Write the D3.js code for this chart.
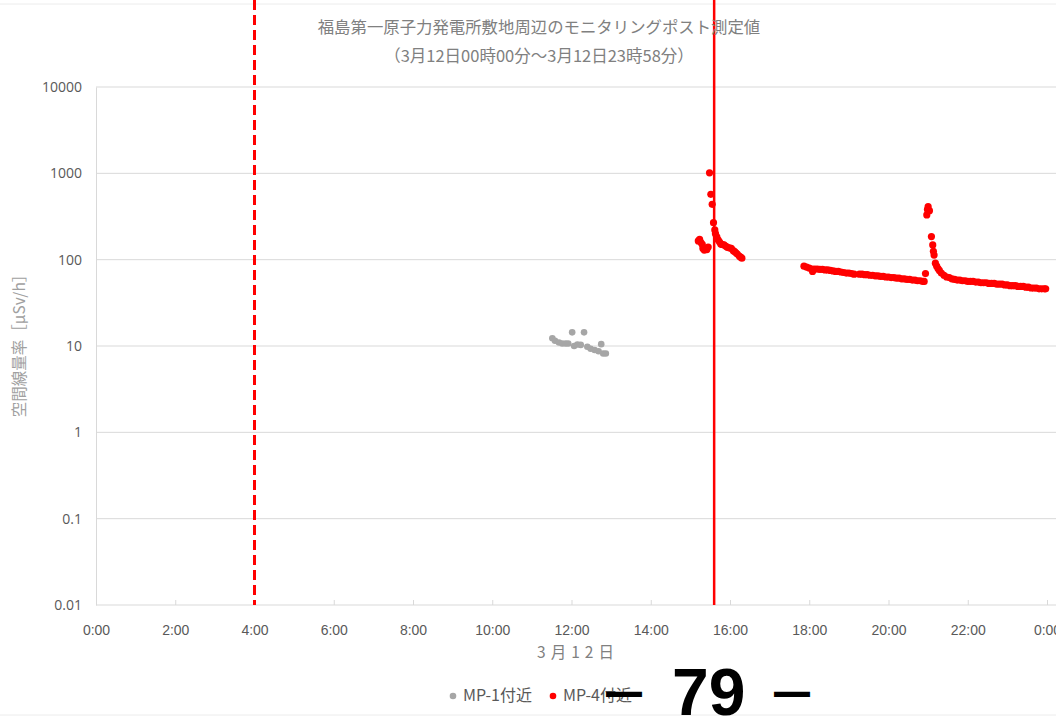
<!DOCTYPE html>
<html><head><meta charset="utf-8">
<script src="https://cdn.jsdelivr.net/npm/d3@7"></script>
<style>body{margin:0;background:#fff;}svg{display:block;}</style>
</head><body>
<svg id="c" width="1056" height="717"></svg>
<script>
const titleText = "福島第一原子力発電所敷地周辺のモニタリングポスト測定値";
const subtitleText = "（3月12日00時00分～3月12日23時58分）";
const yAxisTitle = "空間線量率［μSv/h］";
const xAxisTitle = "3月12日";
const seriesNames = ["MP-1付近", "MP-4付近"];
const seriesColors = ["#a6a6a6", "#ff0000"];
const xTickHours = [0,2,4,6,8,10,12,14,16,18,20,22,24];
const xTickLabels = ["0:00","2:00","4:00","6:00","8:00","10:00","12:00","14:00","16:00","18:00","20:00","22:00","0:00"];
const yTickValues = [0.01,0.1,1,10,100,1000,10000];
const yTickLabels = ["0.01","0.1","1","10","100","1000","10000"];
const eventTimes = ["04:00", "15:36"];
const eventStyles = ["dashed", "solid"];
const pageLabel = "79";

// MP-1 near
const mp1Times = ["11:31","11:35","11:41","11:46","11:51","11:55","12:01","12:04","12:09","12:14","12:19","12:24","12:29","12:35","12:41","12:45","12:48","12:52"];
const mp1Values = [12.3,11.5,11.0,10.7,10.7,10.7,14.4,10.0,10.4,10.3,14.4,9.8,9.3,9.0,8.7,10.5,8.2,8.2];

// MP-4 near
const mp4Times = [
 "15:12","15:14","15:16","15:18","15:19","15:21","15:23","15:25","15:27",
 "15:29","15:31","15:33","15:35","15:37","15:38","15:40","15:42","15:44","15:46","15:48","15:51","15:54","15:56","15:59","16:02","16:05","16:07","16:09","16:11","16:14","16:16","16:18",
 "17:52","17:56","18:00","18:04","18:05","18:08","18:12","18:16","18:20","18:24","18:28","18:32","18:36","18:40","18:44","18:48","18:52","18:56","19:00","19:04","19:08",
 "19:16","19:20","19:24","19:28","19:32","19:36","19:40","19:44","19:48","19:52","19:56","20:00","20:04","20:08","20:12","20:16","20:20","20:24","20:28","20:32","20:36","20:40","20:44","20:48","20:52","20:54",
 "20:56","20:58","20:59","21:00","21:02","21:05","21:07","21:08","21:09","21:11","21:13","21:15","21:17","21:20","21:24","21:28","21:32","21:36","21:40","21:44","21:48","21:52","21:56",
 "22:00","22:04","22:08","22:12","22:16","22:20","22:24","22:28","22:32","22:36","22:40","22:44","22:48","22:52","22:56",
 "23:00","23:04","23:08","23:12","23:16","23:20","23:24","23:28","23:32","23:36","23:40","23:44","23:48","23:52","23:56","23:58"
];
const mp4Values = [
 165,172,158,150,135,129,132,131,140,
 1015,572,438,268,221,200,184,170,161,152,150,148,143,139,137,135,127,124,120,116,110,107,104,
 84,82,80,78,73,78,78,77,77,76,76,75,74,73,73,72,71,70,70,69,68,
 68,68,67,67,66,66,65,65,64,64,63,63,62,62,61,61,60,60,59,59,58,58,57,57,56,56,
 69,330,380,411,369,185,148,125,113,91,84,79,75,70,66,63,62,60,59,58,58,57,57,
 56,56,56,55,55,54,54,54,53,53,53,52,52,52,51,
 51,50,50,50,49,49,49,48,48,47,47,47,46,46,46,46
];

const toHours = t => { const [h,m] = t.split(":").map(Number); return h + m/60; };

const svg = d3.select("#c");
const x = d3.scaleLinear().domain([0,24]).range([96,1047]);
const y = d3.scaleLog().domain([0.01,10000]).range([605,87]);

// faint page borders
svg.append("line").attr("x1",0).attr("x2",1056).attr("y1",4).attr("y2",4).attr("stroke","#ececec");
svg.append("line").attr("x1",0).attr("x2",1056).attr("y1",715).attr("y2",715).attr("stroke","#ececec");

// gridlines
svg.append("g").selectAll("line").data(yTickValues.slice(1)).join("line")
  .attr("x1",x(0)).attr("x2",1056).attr("y1",d=>y(d)).attr("y2",d=>y(d))
  .attr("stroke","#d9d9d9").attr("stroke-width",1);

// y axis
const yAxis = d3.axisLeft(y).tickValues(yTickValues).tickFormat((d,i)=>yTickLabels[i]).tickSize(0).tickPadding(14);
const gy = svg.append("g").attr("transform",`translate(${x(0)},0)`).call(yAxis);
gy.select(".domain").attr("stroke","#d9d9d9");
gy.selectAll("text").attr("fill","#595959").style("font-family","'Open Sans', 'Liberation Sans', sans-serif").style("font-size","14px");

// x axis
const xAxis = d3.axisBottom(x).tickValues(xTickHours).tickFormat((d,i)=>xTickLabels[i]).tickSize(-5).tickPadding(20);
const gx = svg.append("g").attr("transform",`translate(0,${y(0.01)})`).call(xAxis);
gx.select(".domain").attr("stroke","#d9d9d9").attr("d",`M${x(0)},0H1056`);
gx.selectAll(".tick line").attr("stroke","#d9d9d9");
gx.selectAll("text").attr("fill","#595959").style("font-family","'Liberation Sans Narrow', 'Liberation Sans', sans-serif").style("font-size","14px");

// data points
const mp1 = mp1Times.map((t,i)=>({h:toHours(t), v:mp1Values[i]}));
const mp4 = mp4Times.map((t,i)=>({h:toHours(t), v:mp4Values[i]}));
svg.append("g").selectAll("circle").data(mp1).join("circle")
  .attr("cx",d=>x(d.h)).attr("cy",d=>y(d.v)).attr("r",3.3).attr("fill",seriesColors[0]);
svg.append("g").selectAll("circle").data(mp4).join("circle")
  .attr("cx",d=>x(d.h)).attr("cy",d=>y(d.v)).attr("r",3.6).attr("fill",seriesColors[1]);

// event lines
svg.append("g").selectAll("line").data(eventTimes).join("line")
  .attr("x1",d=>x(toHours(d))).attr("x2",d=>x(toHours(d)))
  .attr("y1",0).attr("y2",y(0.01))
  .attr("stroke","#ff0000").attr("stroke-width",(d,i)=>eventStyles[i]==="dashed"?3:2.5)
  .attr("stroke-dasharray",(d,i)=>eventStyles[i]==="dashed"?"10,5":null);

// titles
const cjk = "'Noto Sans CJK JP', 'Noto Sans', sans-serif";
svg.append("text").attr("x",539).attr("y",33).attr("text-anchor","middle")
  .attr("fill","#808080").style("font-family",cjk).style("font-size","16.4px").text(titleText);
svg.append("text").attr("x",539).attr("y",62).attr("text-anchor","middle")
  .attr("fill","#808080").style("font-family",cjk).style("font-size","16.5px").text(subtitleText);

// y title
svg.append("text").attr("transform","translate(25,342) rotate(-90)").attr("text-anchor","middle")
  .attr("fill","#a0a0a0").style("font-family",cjk).style("font-size","15.5px").text(yAxisTitle);

// x title
svg.append("text").attr("x",578).attr("y",658).attr("text-anchor","middle")
  .attr("fill","#808080").style("font-family",cjk).style("font-size","15.5px").style("letter-spacing","5px").text(xAxisTitle);

// legend
const legX = [453, 553];
const lg = svg.append("g");
seriesNames.forEach((n,i)=>{
  lg.append("circle").attr("cx",legX[i]).attr("cy",696).attr("r",3.3).attr("fill",seriesColors[i]);
  lg.append("text").attr("x",legX[i]+10).attr("y",701).attr("fill","#595959")
    .style("font-family",cjk).style("font-size","16px").text(n);
});

// page number
const numFont = "'Liberation Sans', sans-serif";
[606, 774].forEach(px=>{
  svg.append("text").attr("transform",`translate(${px},709) scale(1,1.5)`).attr("fill","#000")
    .style("font-family",numFont).style("font-weight","bold").style("font-size","36px").text("—");
});
svg.append("text").attr("x",672).attr("y",715).attr("fill","#000")
  .style("font-family",numFont).style("font-weight","bold").style("font-size","66px").text(pageLabel);
</script>
</body></html>
